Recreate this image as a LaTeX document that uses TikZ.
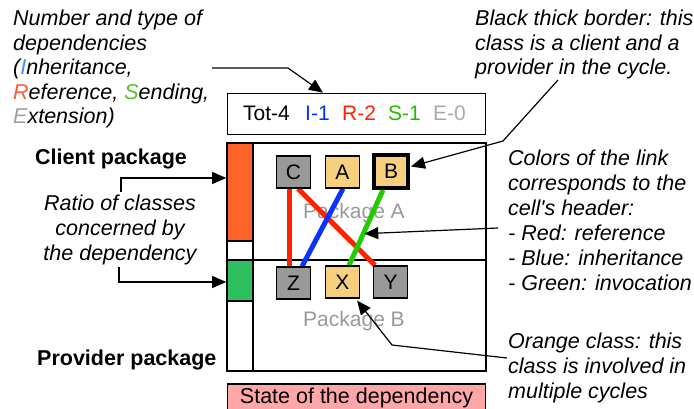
\documentclass[tikz,border=0pt]{standalone}
\usepackage{fontspec}
\setmainfont{Liberation Sans}
\usetikzlibrary{arrows.meta}
\pgfdeclarelayer{bg}
\pgfsetlayers{bg,main}
\definecolor{orangebar}{HTML}{FF6428}
\definecolor{greenbar}{HTML}{2EBF5E}
\definecolor{clsgray}{HTML}{999999}
\definecolor{clstan}{HTML}{F6D07E}
\definecolor{statepink}{HTML}{FFA6A9}
\definecolor{linkred}{HTML}{FF2200}
\definecolor{linkblue}{HTML}{0A33FF}
\definecolor{linkgreen}{HTML}{22CC00}
\definecolor{hdrblue}{HTML}{0033FF}
\definecolor{hdrred}{HTML}{FF2200}
\definecolor{hdrgreen}{HTML}{22BB00}
\definecolor{hdrgray}{HTML}{AAAAAA}
\definecolor{lblue}{HTML}{3F8CFF}
\definecolor{lred}{HTML}{FF5A36}
\definecolor{lgreen}{HTML}{55C02A}
\definecolor{lgray}{HTML}{A0A0A0}
\definecolor{pkggray}{HTML}{999999}
\begin{document}
\begin{tikzpicture}[x=1pt,y=-1pt,
  txt/.style={font=\fontsize{21}{25}\selectfont, inner sep=0pt, anchor=base west},
  itx/.style={font=\fontsize{21.5}{25}\selectfont\itshape, inner sep=0pt, anchor=base west},
  ctx/.style={font=\fontsize{21.5}{25}\selectfont\itshape, inner sep=0pt, anchor=base},
  btx/.style={font=\fontsize{21.5}{25}\selectfont\bfseries, inner sep=0pt, anchor=base west},
  cls/.style={draw, line width=1.2pt, minimum width=34pt, minimum height=32pt, inner sep=0pt, font=\fontsize{21}{25}\selectfont},
  arr/.style={-{Triangle[length=14pt,width=12pt]}, line width=1.2pt},
  link/.style={line width=5pt},
  panel/.style={line width=1.6pt}
]
\useasboundingbox (0,0) rectangle (694,408);

% header box
\node[draw, panel, minimum width=258pt, minimum height=41pt, inner sep=0pt] (hdr) at (356.5,114) {};
\node[txt] (tot) at (243,120.5) {Tot-4};
\node[txt, text=hdrblue] (ii) at (305,120.5) {I-1};
\node[txt, text=hdrred] (rr) at (342,120.5) {R-2};
\node[txt, text=hdrgreen] (ss) at (388,120.5) {S-1};
\node[txt, text=hdrgray] (ee) at (433,120.5) {E-0};

% bars
\node[draw, panel, fill=orangebar, minimum width=26pt, minimum height=98pt, inner sep=0pt] (obar) at (240,192) {};
\node[draw, panel, fill=greenbar, minimum width=26pt, minimum height=41pt, inner sep=0pt] (gbar) at (240,280.5) {};

% classes
\node[cls, fill=clsgray] (C) at (293.5,172) {C};
\node[cls, fill=clstan] (A) at (342.5,172) {A};
\node[cls, fill=clstan, line width=4pt, minimum width=34pt, minimum height=33pt] (B) at (391,171.5) {B};
\node[cls, fill=clsgray] (Z) at (293.5,283) {Z};
\node[cls, fill=clstan] (X) at (342.5,282) {X};
\node[cls, fill=clsgray] (Y) at (390.5,282) {Y};

\begin{pgfonlayer}{bg}
  \draw[panel] (227,143) rectangle (486,371);
  \draw[panel] (253,143) -- (253,371);
  \draw[panel] (253,260) -- (486,260);
  \node[font=\fontsize{21}{25}\selectfont, text=pkggray, inner sep=0pt, anchor=base] (pkA) at (354,218.5) {Package A};
  \node[font=\fontsize{21}{25}\selectfont, text=pkggray, inner sep=0pt, anchor=base] (pkB) at (354,326.5) {Package B};
  \draw[link, linkred] ([xshift=-4.5pt]C.south) -- ([xshift=-4.5pt]Z.north);
  \draw[link, linkred] ([xshift=4.5pt]C.south) -- ([xshift=-15.5pt]Y.north);
  \draw[link, linkblue] ([xshift=0.5pt]A.south) -- ([xshift=8.5pt]Z.north);
  \draw[link, linkgreen] ([xshift=-8pt]B.south) -- ([xshift=6.5pt]X.north) coordinate[pos=0.58] (gmid);
\end{pgfonlayer}

% state box
\node[draw, panel, fill=statepink, minimum width=258pt, minimum height=30pt, inner sep=0pt, anchor=north] (state) at (356.5,383) {};
\node[txt, font=\fontsize{21.5}{25}\selectfont, anchor=base] (statet) at (356.5,403.5) {State of the dependency};

% left texts
\node[itx] (n1) at (13,25.5) {Number and type of};
\node[itx] (n2) at (13,50) {dependencies};
\node[itx] (n3) at (13,74.5) {(\textcolor{lblue}{I}nheritance,};
\node[itx] (n4) at (13,99) {\textcolor{lred}{R}eference, \textcolor{lgreen}{S}ending,};
\node[itx] (n5) at (13,123.5) {\textcolor{lgray}{E}xtension)};

\node[btx] (client) at (35,164.5) {Client package};
\node[btx] (provider) at (37,365.5) {Provider package};

\node[ctx] (r1) at (120,210.5) {Ratio of classes};
\node[ctx] (r2) at (120,235.5) {concerned by};
\node[ctx] (r3) at (120,260.5) {the dependency};

% right texts
\node[itx] (b1) at (475,25.5) {Black thick border: this};
\node[itx] (b2) at (475,50) {class is a client and a};
\node[itx] (b3) at (475,74.5) {provider in the cycle.};

\node[itx] (c1) at (508,165.5) {Colors of the link};
\node[itx] (c2) at (508,190.5) {corresponds to the};
\node[itx] (c3) at (508,215.5) {cell\textquotesingle s header:};
\node[itx] (c4) at (508,240.5) {- Red: reference};
\node[itx] (c5) at (508,265.5) {- Blue: inheritance};
\node[itx] (c6) at (508,290.5) {- Green: invocation};

\node[itx] (o1) at (508,348.5) {Orange class: this};
\node[itx] (o2) at (508,373.5) {class is involved in};
\node[itx] (o3) at (508,398.5) {multiple cycles};

% arrows
\coordinate (a1s) at (212,68);
\coordinate (a1b) at (288,68);
\draw[arr] (a1s) -- (a1b) -- ([xshift=-33.5pt]hdr.north);

\coordinate (a2s) at (121,192);
\draw[arr] (a2s) |- ([yshift=14pt]obar.west);
\coordinate (a3s) at (119,267);
\draw[arr] (a3s) |- ([yshift=-1.5pt]gbar.west);

\coordinate (a4s) at (558,80);
\coordinate (a4b) at (503,141);
\draw[arr] (a4s) -- (a4b) -- ([yshift=5pt,xshift=1pt]B.east);

\coordinate (a5s) at (498,228);
\draw[arr, shorten >=1pt] (a5s) -- (gmid);

\coordinate (a6s) at (507,358);
\coordinate (a6b) at (392,345);
\draw[arr] (a6s) -- (a6b) -- ([xshift=-3pt,yshift=-2pt]X.south east);
\end{tikzpicture}
\end{document}
